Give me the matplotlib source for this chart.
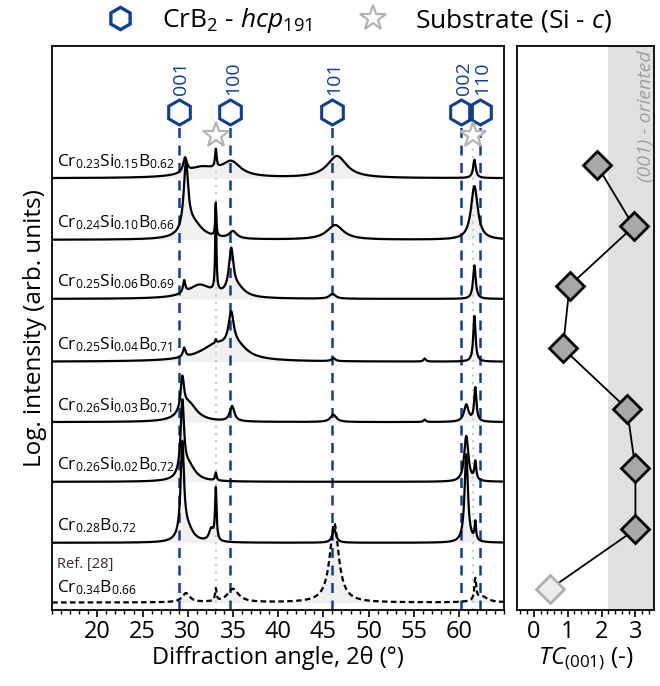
import numpy as np
import matplotlib
matplotlib.use('Agg')
import matplotlib.pyplot as plt
from matplotlib.lines import Line2D
from matplotlib.ticker import MultipleLocator

plt.rcParams['font.family'] = ['Open Sans', 'DejaVu Sans']
plt.rcParams['mathtext.fontset'] = 'custom'
plt.rcParams['mathtext.rm'] = 'Open Sans'
plt.rcParams['mathtext.it'] = 'Open Sans:italic'
plt.rcParams['mathtext.bf'] = 'Open Sans:bold'

# sample names, top to bottom
labels = [r'Cr$_{0.23}$Si$_{0.15}$B$_{0.62}$',
          r'Cr$_{0.24}$Si$_{0.10}$B$_{0.66}$',
          r'Cr$_{0.25}$Si$_{0.06}$B$_{0.69}$',
          r'Cr$_{0.25}$Si$_{0.04}$B$_{0.71}$',
          r'Cr$_{0.26}$Si$_{0.03}$B$_{0.71}$',
          r'Cr$_{0.26}$Si$_{0.02}$B$_{0.72}$',
          r'Cr$_{0.28}$B$_{0.72}$',
          r'Cr$_{0.34}$B$_{0.66}$']
offsets = [7.08, 6.07, 5.10, 4.07, 3.08, 2.10, 1.10, 0.12]

# peaks: (2theta, height, fwhm)
peaks = [
    [(29.7, 0.24, 0.5), (31.5, 0.16, 4.0), (33.1, 0.30, 0.2), (34.8, 0.24, 2.5),
     (46.5, 0.36, 2.6), (61.7, 0.30, 0.35)],
    [(29.8, 1.10, 0.6), (30.6, 0.25, 2.5), (33.1, 0.50, 0.15), (35.0, 0.12, 1.0),
     (46.3, 0.24, 2.2), (61.7, 0.88, 0.9)],
    [(29.6, 0.20, 0.3), (31.3, 0.22, 3.2), (33.1, 1.45, 0.15), (34.8, 0.70, 0.6),
     (35.5, 0.15, 2.0), (46.0, 0.08, 0.8), (61.7, 0.55, 0.35)],
    [(29.6, 0.15, 0.35), (33.2, 0.26, 4.5), (33.1, 0.06, 0.15), (34.8, 0.55, 0.7),
     (35.6, 0.15, 2.5), (46.1, 0.05, 0.5), (56.2, 0.05, 0.3), (61.7, 0.75, 0.3)],
    [(29.4, 0.55, 0.45), (30.1, 0.30, 2.2), (34.9, 0.25, 0.6), (46.1, 0.12, 0.8),
     (56.2, 0.04, 0.3), (60.8, 0.28, 0.6), (61.8, 0.55, 0.3)],
    [(29.4, 1.20, 0.45), (30.1, 0.25, 1.8), (33.1, 0.13, 0.2), (60.8, 0.75, 0.55),
     (61.8, 0.30, 0.25)],
    [(29.4, 1.55, 0.45), (30.0, 0.20, 1.5), (32.6, 0.20, 0.6), (33.1, 0.85, 0.2),
     (46.2, 0.22, 0.5), (60.8, 1.45, 0.45), (61.8, 0.30, 0.2)],
    [(29.8, 0.15, 1.0), (33.1, 0.20, 0.2), (35.0, 0.22, 1.5), (46.2, 1.30, 1.2),
     (61.8, 0.35, 0.25), (62.5, 0.10, 1.5)],
]

# texture coefficient TC(001), same order
tc = [1.86, 2.95, 1.06, 0.86, 2.75, 3.0, 3.0, 0.47]

# reference positions
hkl_pos = [29.0, 34.7, 45.9, 60.2, 62.3]
hkl_lab = ['001', '100', '101', '002', '110']
si_pos = [33.1, 61.6]

blue = '#0d3f94'
grey = '#b4b4b4'

x = np.linspace(15, 65, 3000)

fig = plt.figure(figsize=(6.6, 6.86), dpi=100)
ax = fig.add_axes([0.079, 0.111, 0.685, 0.822])
ax2 = fig.add_axes([0.783, 0.111, 0.208, 0.822])

ytop = 9.25
for i, (lab, off, pk) in enumerate(zip(labels, offsets, peaks)):
    y = np.zeros_like(x)
    for c, h, w in pk:
        y += h / (1 + ((x - c) / (w / 2)) ** 2)
    last = i == len(labels) - 1
    ax.fill_between(x, off, off + y, color='#909090', alpha=0.13, lw=0, zorder=1)
    if last:
        ax.plot(x, off + y, color='k', lw=1.6, ls='--', dashes=(2.5, 1.5), zorder=3)
    else:
        ax.plot(x, off + y, color='k', lw=1.6, zorder=3)
    ax.text(15.5, off + (0.16 if last else 0.2), lab, fontsize=12.5,
            va='baseline', ha='left', zorder=4)

ax.text(15.5, 0.68, 'Ref. [28]', fontsize=10.5, va='baseline', ha='left', color='#3a2a20')

for p, lab in zip(hkl_pos, hkl_lab):
    ax.plot([p, p], [0, 7.92], color=blue, lw=1.8, dashes=(4, 3), zorder=2)
    ax.plot(p, 8.16, marker='h', ms=18, mfc='none', mec=blue, mew=2.2, zorder=5)
    ax.text(p + 0.3, 8.45, lab, rotation=90, color=blue, fontsize=14,
            ha='center', va='bottom')
for p in si_pos:
    ax.plot([p, p], [0, 7.6], color='#c8c8c8', lw=1.5, ls=(0, (1, 2.5)), zorder=2)
    ax.plot(p, 7.79, marker='*', ms=19, mfc='white', mec=grey, mew=1.6, zorder=5)

ax.set_xlim(15, 65)
ax.set_ylim(0, ytop)
ax.set_yticks([])
ax.xaxis.set_minor_locator(MultipleLocator(1))
ax.set_xticks(range(20, 65, 5))
ax.tick_params(axis='x', which='major', labelsize=17, length=5, width=1.2, pad=2)
ax.tick_params(axis='x', which='minor', length=3, width=1)
ax.set_xlabel('Diffraction angle, 2θ (°)', fontsize=17, labelpad=2)
ax.set_ylabel('Log. intensity (arb. units)', fontsize=17.5, labelpad=4)
for s in ax.spines.values():
    s.set_linewidth(1.3)

# texture panel
tc_y = [o + 0.22 for o in offsets]
ax2.axvspan(2.2, 3.6, color='#e0e0e0', lw=0, zorder=0)
ax2.plot(tc, tc_y, color='k', lw=1.3, zorder=2)
ax2.plot(tc[:-1], tc_y[:-1], ls='none', marker='D', ms=14, mfc='#a8a8a8',
         mec='k', mew=2, zorder=3)
ax2.plot(tc[-1], tc_y[-1], ls='none', marker='D', ms=14, mfc='#ececec',
         mec='#b0b0b0', mew=2, zorder=3)
ax2.text(3.3, 9.18, '(001) - oriented', rotation=90, fontsize=14, style='italic',
         color='#a0a0a0', ha='center', va='top')
ax2.set_xlim(-0.5, 3.55)
ax2.set_ylim(0, ytop)
ax2.set_yticks([])
ax2.set_xticks([0, 1, 2, 3])
ax2.xaxis.set_minor_locator(MultipleLocator(0.2))
ax2.tick_params(axis='x', which='major', labelsize=17, length=5, width=1.2, pad=2)
ax2.tick_params(axis='x', which='minor', length=3, width=1)
ax2.set_xlabel(r'$\mathit{TC}_{(001)}$ (-)', fontsize=17.5, labelpad=2)
for s in ax2.spines.values():
    s.set_linewidth(1.3)

handles = [Line2D([], [], ls='none', marker='h', ms=16, mfc='none', mec=blue, mew=2.4),
           Line2D([], [], ls='none', marker='*', ms=19, mfc='white', mec=grey, mew=1.6)]
fig.legend(handles, [r'CrB$_2$ - $\mathit{hcp}_{\mathit{191}}$', r'Substrate (Si - $c$)'],
           loc='center', bbox_to_anchor=(0.535, 0.970), ncol=2, frameon=False,
           fontsize=19, handletextpad=0.6, columnspacing=1.3)

fig.savefig('out.png', dpi=100)
